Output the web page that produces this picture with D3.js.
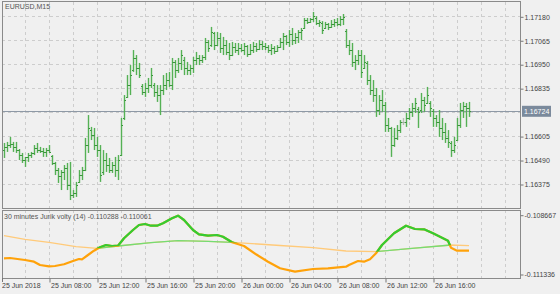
<!DOCTYPE html>
<html><head><meta charset="utf-8">
<script src="https://cdn.jsdelivr.net/npm/d3@7"></script>
<style>
html,body{margin:0;padding:0;background:#f0f0f0;}
svg{display:block;font-family:"Liberation Sans",Arial,sans-serif;}
</style></head><body><svg id="c" width="560" height="294"></svg>
<script>
// ---- data (EURUSD M15 bars, index 0 = first visible bar) ----
const barOpen=[1.16538,1.16553,1.16562,1.16567,1.16553,1.16538,1.16514,1.16490,1.16505,1.16514,
1.16524,1.16548,1.16538,1.16533,1.16529,1.16538,1.16509,1.16476,1.16442,1.16413,
1.16433,1.16452,1.16370,1.16322,1.16332,1.16385,1.16418,1.16442,1.16562,1.16634,
1.16610,1.16562,1.16538,1.16433,1.16490,1.16466,1.16442,1.16466,1.16442,1.16514,
1.16692,1.16793,1.16850,1.16922,1.16980,1.16932,1.16845,1.16817,1.16836,1.16850,
1.16850,1.16817,1.16802,1.16826,1.16850,1.16874,1.16850,1.16961,1.16922,1.16956,
1.16970,1.16932,1.16922,1.16932,1.16970,1.16980,1.16970,1.16985,1.17057,1.17042,
1.17100,1.17042,1.17076,1.17028,1.17042,1.17009,1.16994,1.17033,1.17018,1.17028,
1.17018,1.17037,1.16999,1.17018,1.17037,1.17023,1.17047,1.17037,1.17033,1.17018,
1.17028,1.17013,1.17033,1.17057,1.17085,1.17057,1.17095,1.17066,1.17081,1.17105,
1.17124,1.17162,1.17153,1.17167,1.17172,1.17148,1.17148,1.17124,1.17143,1.17129,
1.17143,1.17153,1.17143,1.17167,1.17109,1.17042,1.17018,1.16961,1.16970,1.16994,
1.16932,1.16956,1.16874,1.16826,1.16802,1.16730,1.16778,1.16754,1.16658,1.16644,
1.16562,1.16596,1.16634,1.16673,1.16673,1.16692,1.16721,1.16740,1.16735,1.16730,
1.16778,1.16764,1.16764,1.16725,1.16692,1.16673,1.16644,1.16625,1.16596,1.16572,
1.16538,1.16586,1.16658,1.16730,1.16749,1.16740];
const barHigh=[1.16572,1.16577,1.16601,1.16577,1.16577,1.16543,1.16524,1.16505,1.16524,1.16529,
1.16562,1.16572,1.16553,1.16548,1.16548,1.16562,1.16514,1.16481,1.16452,1.16442,
1.16466,1.16476,1.16481,1.16346,1.16385,1.16442,1.16457,1.16596,1.16706,1.16649,
1.16644,1.16601,1.16562,1.16538,1.16524,1.16500,1.16481,1.16505,1.16514,1.16692,
1.16802,1.16898,1.16946,1.17018,1.16994,1.16956,1.16855,1.16860,1.16884,1.16932,
1.16860,1.16850,1.16850,1.16898,1.16908,1.16913,1.16980,1.16970,1.16980,1.17018,
1.16985,1.16961,1.16946,1.16985,1.17009,1.16994,1.16994,1.17076,1.17066,1.17129,
1.17105,1.17105,1.17100,1.17081,1.17066,1.17052,1.17057,1.17052,1.17052,1.17047,
1.17052,1.17042,1.17047,1.17057,1.17052,1.17066,1.17061,1.17052,1.17042,1.17047,
1.17037,1.17042,1.17076,1.17100,1.17090,1.17114,1.17124,1.17100,1.17114,1.17124,
1.17172,1.17172,1.17172,1.17201,1.17181,1.17162,1.17157,1.17153,1.17148,1.17162,
1.17167,1.17172,1.17181,1.17191,1.17119,1.17066,1.17052,1.16994,1.17018,1.17018,
1.16994,1.16965,1.16898,1.16874,1.16836,1.16802,1.16826,1.16769,1.16692,1.16649,
1.16644,1.16658,1.16682,1.16692,1.16716,1.16740,1.16764,1.16788,1.16745,1.16812,
1.16793,1.16841,1.16773,1.16735,1.16706,1.16730,1.16692,1.16668,1.16634,1.16581,
1.16601,1.16692,1.16764,1.16769,1.16764,1.16769];
const barLow=[1.16500,1.16529,1.16548,1.16529,1.16524,1.16490,1.16476,1.16457,1.16481,1.16500,
1.16514,1.16524,1.16524,1.16505,1.16505,1.16524,1.16466,1.16418,1.16380,1.16346,
1.16394,1.16346,1.16298,1.16308,1.16313,1.16380,1.16394,1.16437,1.16524,1.16586,
1.16538,1.16505,1.16385,1.16418,1.16433,1.16428,1.16428,1.16409,1.16394,1.16509,
1.16682,1.16788,1.16802,1.16913,1.16898,1.16884,1.16802,1.16793,1.16812,1.16836,
1.16793,1.16769,1.16706,1.16802,1.16826,1.16841,1.16826,1.16884,1.16908,1.16922,
1.16898,1.16898,1.16898,1.16908,1.16946,1.16946,1.16956,1.16970,1.17009,1.17033,
1.17018,1.17037,1.17004,1.16994,1.16994,1.16970,1.16989,1.17004,1.16994,1.17009,
1.16994,1.16985,1.16994,1.17004,1.17009,1.17018,1.17018,1.17018,1.17004,1.16994,
1.16999,1.17009,1.17028,1.17018,1.17042,1.17033,1.17042,1.17047,1.17052,1.17066,
1.17119,1.17143,1.17148,1.17153,1.17138,1.17129,1.17095,1.17119,1.17114,1.17124,
1.17129,1.17133,1.17133,1.17138,1.17028,1.16994,1.16937,1.16922,1.16946,1.16884,
1.16927,1.16850,1.16802,1.16769,1.16697,1.16706,1.16721,1.16625,1.16625,1.16505,
1.16553,1.16586,1.16620,1.16658,1.16649,1.16682,1.16697,1.16716,1.16644,1.16716,
1.16721,1.16759,1.16697,1.16649,1.16649,1.16601,1.16586,1.16572,1.16548,1.16505,
1.16524,1.16581,1.16644,1.16692,1.16649,1.16697];
const barClose=[1.16553,1.16562,1.16567,1.16553,1.16538,1.16514,1.16490,1.16505,1.16514,1.16524,
1.16548,1.16538,1.16533,1.16529,1.16538,1.16529,1.16476,1.16442,1.16413,1.16433,
1.16452,1.16370,1.16322,1.16332,1.16370,1.16418,1.16442,1.16562,1.16644,1.16610,
1.16562,1.16538,1.16418,1.16490,1.16466,1.16442,1.16466,1.16442,1.16490,1.16658,
1.16778,1.16850,1.16898,1.16980,1.16932,1.16898,1.16817,1.16836,1.16850,1.16898,
1.16817,1.16802,1.16826,1.16850,1.16874,1.16850,1.16961,1.16922,1.16956,1.16994,
1.16932,1.16922,1.16932,1.16970,1.16980,1.16970,1.16985,1.17057,1.17028,1.17105,
1.17042,1.17076,1.17028,1.17042,1.17009,1.16994,1.17033,1.17018,1.17028,1.17018,
1.17037,1.16999,1.17018,1.17037,1.17023,1.17047,1.17037,1.17033,1.17018,1.17028,
1.17013,1.17033,1.17057,1.17085,1.17057,1.17095,1.17066,1.17081,1.17105,1.17114,
1.17162,1.17153,1.17167,1.17181,1.17148,1.17153,1.17114,1.17143,1.17129,1.17143,
1.17153,1.17143,1.17167,1.17177,1.17042,1.17018,1.16961,1.16970,1.16994,1.16913,
1.16961,1.16874,1.16826,1.16802,1.16730,1.16778,1.16754,1.16658,1.16644,1.16562,
1.16596,1.16634,1.16673,1.16673,1.16692,1.16721,1.16740,1.16764,1.16721,1.16778,
1.16754,1.16802,1.16740,1.16692,1.16673,1.16644,1.16625,1.16596,1.16577,1.16538,
1.16562,1.16658,1.16730,1.16749,1.16740,1.16724];

const priceTicks=[1.16375,1.16490,1.16605,1.16720,1.16835,1.16950,1.17065,1.17180];
const priceLabels=[1.16375,1.16490,1.16605,1.16835,1.16950,1.17065,1.17180];
const lastPrice=1.16724;
const symbolTitle="EURUSD,M15";

const timeTickIdx=[15,31,47,63,79,95,111,127,143];
const timeTickLabels=["25 Jun 08:00","25 Jun 12:00","25 Jun 16:00","25 Jun 20:00","26 Jun 00:00","26 Jun 04:00","26 Jun 08:00","26 Jun 12:00","26 Jun 16:00"];
const firstTimeLabel="25 Jun 2018";

// Jurik volty indicator (main line and signal line), sampled at bar indices
const volIdx=[0,2,7,10,12,15,17,20,23,25,26,28,30,32,34,36,38,40,43,45,47,49,51,53,56,58,60,63,65,68,71,73,76,80,84,88,92,97,103,108,114,115,118,120,122,124,126,130,134,137,140,143,148,149,151,155];
const volMain=[-0.110629,-0.110616,-0.110706,-0.110782,-0.110931,-0.110989,-0.110976,-0.110899,-0.110751,-0.110661,
-0.110674,-0.110481,-0.110287,-0.110134,-0.110031,-0.110076,-0.110062,-0.109729,-0.109356,-0.109131,
-0.109086,-0.109162,-0.109162,-0.109054,-0.108829,-0.108712,-0.108906,-0.109356,-0.109549,-0.109612,
-0.109581,-0.109657,-0.109909,-0.110076,-0.110449,-0.110782,-0.111079,-0.111232,-0.111111,-0.111079,
-0.111007,-0.110931,-0.110751,-0.110782,-0.110674,-0.110404,-0.110031,-0.109504,-0.109162,-0.109311,
-0.109324,-0.109504,-0.109837,-0.110152,-0.110287,-0.110288];
const sigIdx=[0,7,15,24,31,38,49,58,68,76,92,103,114,124,136,149,155];
const sigVal=[-0.109612,-0.109774,-0.109909,-0.110107,-0.110179,-0.110076,-0.109927,-0.109837,-0.109864,-0.109909,
-0.110053,-0.110152,-0.110301,-0.110332,-0.110179,-0.110031,-0.110061];
const indTitle="30 minutes Jurik volty (14) -0.110288 -0.110061";
const indMax=-0.108667, indMin=-0.111336;

// ---- layout ----
const L=2, R=520, mainTop=2, mainBot=208, indTop=210, indBot=278;
const svg=d3.select("#c");
const x=d3.scaleLinear().domain([0,172]).range([4,520]);
const y=d3.scaleLinear().domain([1.16375,1.17180]).range([184,16.3]);
const yi=d3.scaleLinear().domain([indMin,indMax]).range([274,214.7]);
const crisp=v=>Math.round(v)+0.5;

svg.append("rect").attr("width",560).attr("height",294).attr("fill","#f0f0f0");

// grid
const gridColor="#cdcdcd";
const gx=d3.range(7,168,8);
const grid=svg.append("g").attr("stroke",gridColor).attr("stroke-dasharray","3,3").attr("stroke-width",1);
grid.selectAll(".hg").data(priceTicks).join("line")
 .attr("x1",L).attr("x2",R).attr("y1",d=>crisp(y(d))).attr("y2",d=>crisp(y(d)));
grid.selectAll(".vg").data(gx).join("line")
 .attr("x1",d=>crisp(x(d))).attr("x2",d=>crisp(x(d))).attr("y1",mainTop).attr("y2",mainBot);
grid.selectAll(".vg2").data(gx).join("line").attr("class","vg2")
 .attr("x1",d=>crisp(x(d))).attr("x2",d=>crisp(x(d))).attr("y1",indTop).attr("y2",indBot);

// current price line
svg.append("line").attr("x1",L).attr("x2",R).attr("y1",crisp(y(lastPrice))).attr("y2",crisp(y(lastPrice)))
 .attr("stroke","#8e99a6").attr("stroke-width",1);

// OHLC bars
const bars=svg.append("g");
barHigh.forEach((h,i)=>{
  const o=barOpen[i],c=barClose[i],lo=barLow[i];
  const xc=x(i)+0.5;
  const doji=(o===c);
  const col=doji?"#b4c4b4":"#55b155";
  const tcol=doji?"#9aaa9a":"#3a953a";
  bars.append("line").attr("x1",xc).attr("x2",xc).attr("y1",y(h)).attr("y2",y(lo))
    .attr("stroke",col).attr("stroke-width",1.4);
  bars.append("line").attr("x1",xc-1.5).attr("x2",xc).attr("y1",crisp(y(o))).attr("y2",crisp(y(o)))
    .attr("stroke",tcol).attr("stroke-width",1);
  bars.append("line").attr("x1",xc).attr("x2",xc+1.5).attr("y1",crisp(y(c))).attr("y2",crisp(y(c)))
    .attr("stroke",tcol).attr("stroke-width",1);
});

// indicator
const defs=svg.append("defs");
defs.append("clipPath").attr("id","indclip").append("rect")
  .attr("x",L).attr("y",indTop).attr("width",R-L).attr("height",indBot-indTop);
const mainPts=volIdx.map((d,k)=>({i:d,v:volMain[k]}));
const sigPts=sigIdx.map((d,k)=>({i:d,v:sigVal[k]}));
const line=d3.line().x(d=>x(d.i)).y(d=>yi(d.v));
defs.append("clipPath").attr("id","aboveSig").append("path")
  .attr("d",d3.area().x(d=>x(d.i)).y0(indTop-5).y1(d=>yi(d.v))(sigPts));
defs.append("clipPath").attr("id","belowMain").append("path")
  .attr("d",d3.area().x(d=>x(d.i)).y0(d=>yi(d.v)).y1(indBot+5)(mainPts));
const ind=svg.append("g").attr("clip-path","url(#indclip)");
ind.append("path").attr("d",line(sigPts)).attr("fill","none").attr("stroke","#ffca7a").attr("stroke-width",1.3);
ind.append("path").attr("d",line(sigPts)).attr("fill","none").attr("stroke","#74dc74").attr("stroke-width",1.3)
  .attr("clip-path","url(#belowMain)");
ind.append("path").attr("d",line(mainPts)).attr("fill","none").attr("stroke","#ffa20a").attr("stroke-width",2.2)
  .attr("stroke-linejoin","round");
ind.append("path").attr("d",line(mainPts)).attr("fill","none").attr("stroke","#33cc33").attr("stroke-width",2.2)
  .attr("stroke-linejoin","round").attr("clip-path","url(#aboveSig)");

// frames
const frameCol="#8a8a8a";
svg.append("rect").attr("x",L+0.5).attr("y",mainTop-0.5).attr("width",R-L).attr("height",mainBot-mainTop+1)
  .attr("fill","none").attr("stroke",frameCol);
svg.append("rect").attr("x",L+0.5).attr("y",indTop+0.5).attr("width",R-L).attr("height",indBot-indTop)
  .attr("fill","none").attr("stroke",frameCol);

// axes
const txtCol="#444";
const yAxis=d3.axisRight(y).tickValues(priceLabels).tickFormat(d=>d.toFixed(5)).tickSize(3).tickPadding(1);
const ya=svg.append("g").attr("transform",`translate(${R+0.5},0.5)`).call(yAxis);
const yiAxis=d3.axisRight(yi).tickValues([indMax,indMin]).tickFormat(d=>d.toFixed(6)).tickSize(3).tickPadding(1);
const yb=svg.append("g").attr("transform",`translate(${R+0.5},0.5)`).call(yiAxis);
const xAxis=d3.axisBottom(x).tickValues(timeTickIdx).tickFormat((d,k)=>timeTickLabels[k]).tickSize(4).tickPadding(1);
const xa=svg.append("g").attr("transform",`translate(0.5,${indBot+0.5})`).call(xAxis);
[ya,yb,xa].forEach(g=>{
  g.select(".domain").remove();
  g.selectAll("line").attr("stroke","#777");
  g.selectAll("text").attr("fill",txtCol).style("font-size","7px").style("font-family","'Liberation Sans',Arial,sans-serif");
});
xa.selectAll("text").attr("text-anchor","start").attr("x",1).attr("y",5).attr("dy","0.71em");
// first date label at the left edge
svg.append("line").attr("x1",L+0.5).attr("x2",L+0.5).attr("y1",indBot).attr("y2",indBot+4).attr("stroke","#777");
svg.append("text").attr("x",L).attr("y",288).attr("fill",txtCol).style("font-size","7px").text(firstTimeLabel);

// current price tag
const ly=y(lastPrice);
svg.append("rect").attr("x",522).attr("y",ly-5.5).attr("width",29).attr("height",11).attr("fill","#7b8a9c");
svg.append("text").attr("x",524).attr("y",ly).attr("dy","0.35em").attr("fill","#fff").style("font-size","7px")
  .text(lastPrice.toFixed(5));

// titles
svg.append("text").attr("x",5).attr("y",9).attr("fill","#555").style("font-size","7px").text(symbolTitle);
svg.append("text").attr("x",4).attr("y",219).attr("fill","#555").style("font-size","7px").text(indTitle);
</script></body></html>
